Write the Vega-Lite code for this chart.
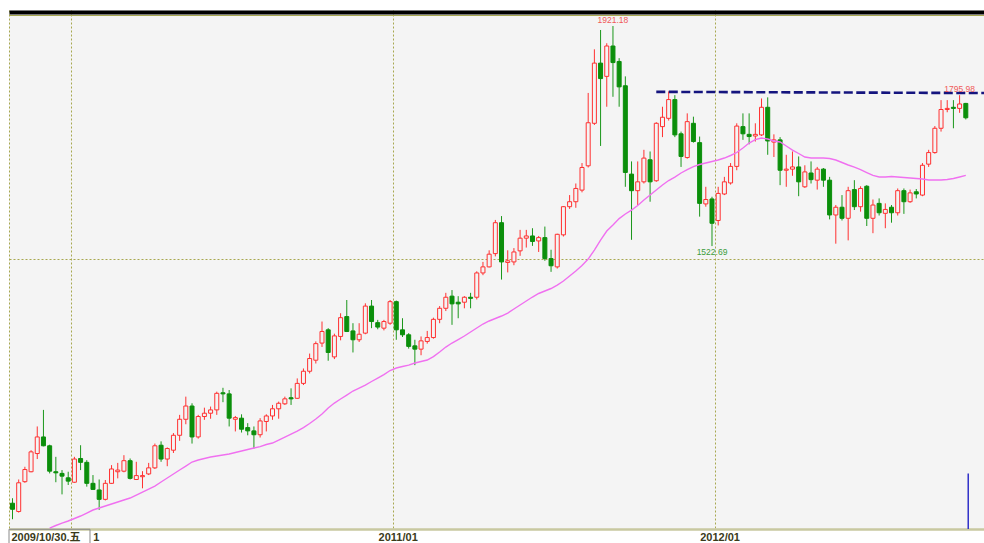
{
  "$schema": "https://vega.github.io/schema/vega-lite/v6.json",
  "width": 975,
  "height": 519,
  "autosize": {"type": "none"},
  "padding": {"left": 9, "top": 10, "right": 0, "bottom": 14},
  "background": "#ffffff",
  "config": {"view": {"stroke": null, "fill": "#f4f4f4"}},
  "datasets": {
    "k": [
      {"d":"2009-10-30","o":1057,"h":1066,"l":1028,"c":1046},
      {"d":"2009-11-06","o":1042,"h":1100,"l":1040,"c":1094},
      {"d":"2009-11-13","o":1096,"h":1123,"l":1094,"c":1118},
      {"d":"2009-11-20","o":1114,"h":1153,"l":1113,"c":1150},
      {"d":"2009-11-27","o":1147,"h":1196,"l":1137,"c":1177},
      {"d":"2009-12-04","o":1177,"h":1226,"l":1160,"c":1161},
      {"d":"2009-12-11","o":1161,"h":1163,"l":1111,"c":1115},
      {"d":"2009-12-18","o":1114,"h":1141,"l":1095,"c":1112},
      {"d":"2009-12-25","o":1111,"h":1117,"l":1073,"c":1106},
      {"d":"2010-01-01","o":1103,"h":1114,"l":1090,"c":1097},
      {"d":"2010-01-08","o":1095,"h":1141,"l":1094,"c":1137},
      {"d":"2010-01-15","o":1138,"h":1162,"l":1117,"c":1131},
      {"d":"2010-01-22","o":1131,"h":1135,"l":1087,"c":1093},
      {"d":"2010-01-29","o":1093,"h":1108,"l":1081,"c":1082},
      {"d":"2010-02-05","o":1081,"h":1100,"l":1045,"c":1064},
      {"d":"2010-02-12","o":1064,"h":1099,"l":1062,"c":1093},
      {"d":"2010-02-19","o":1093,"h":1126,"l":1092,"c":1119},
      {"d":"2010-02-26","o":1114,"h":1130,"l":1102,"c":1117},
      {"d":"2010-03-05","o":1115,"h":1144,"l":1113,"c":1134},
      {"d":"2010-03-12","o":1134,"h":1138,"l":1100,"c":1102},
      {"d":"2010-03-19","o":1100,"h":1132,"l":1099,"c":1107},
      {"d":"2010-03-26","o":1105,"h":1115,"l":1084,"c":1107},
      {"d":"2010-04-02","o":1110,"h":1130,"l":1108,"c":1121},
      {"d":"2010-04-09","o":1121,"h":1165,"l":1119,"c":1161},
      {"d":"2010-04-16","o":1162,"h":1169,"l":1132,"c":1137},
      {"d":"2010-04-23","o":1137,"h":1158,"l":1124,"c":1156},
      {"d":"2010-04-30","o":1153,"h":1184,"l":1148,"c":1180},
      {"d":"2010-05-07","o":1180,"h":1217,"l":1170,"c":1209},
      {"d":"2010-05-14","o":1209,"h":1250,"l":1200,"c":1233},
      {"d":"2010-05-21","o":1233,"h":1238,"l":1165,"c":1177},
      {"d":"2010-05-28","o":1177,"h":1217,"l":1174,"c":1214},
      {"d":"2010-06-04","o":1214,"h":1230,"l":1208,"c":1220},
      {"d":"2010-06-11","o":1220,"h":1232,"l":1210,"c":1226},
      {"d":"2010-06-18","o":1226,"h":1259,"l":1217,"c":1256},
      {"d":"2010-06-25","o":1257,"h":1266,"l":1240,"c":1255},
      {"d":"2010-07-02","o":1255,"h":1262,"l":1196,"c":1211},
      {"d":"2010-07-09","o":1209,"h":1215,"l":1187,"c":1212},
      {"d":"2010-07-16","o":1211,"h":1218,"l":1185,"c":1191},
      {"d":"2010-07-23","o":1194,"h":1202,"l":1180,"c":1188},
      {"d":"2010-07-30","o":1188,"h":1196,"l":1156,"c":1181},
      {"d":"2010-08-06","o":1181,"h":1211,"l":1176,"c":1206},
      {"d":"2010-08-13","o":1205,"h":1218,"l":1187,"c":1215},
      {"d":"2010-08-20","o":1215,"h":1235,"l":1208,"c":1228},
      {"d":"2010-08-27","o":1228,"h":1241,"l":1210,"c":1238},
      {"d":"2010-09-03","o":1237,"h":1250,"l":1235,"c":1246},
      {"d":"2010-09-10","o":1248,"h":1265,"l":1235,"c":1246},
      {"d":"2010-09-17","o":1247,"h":1283,"l":1246,"c":1274},
      {"d":"2010-09-24","o":1274,"h":1301,"l":1271,"c":1296},
      {"d":"2010-10-01","o":1296,"h":1328,"l":1292,"c":1319},
      {"d":"2010-10-08","o":1316,"h":1350,"l":1310,"c":1346},
      {"d":"2010-10-15","o":1347,"h":1386,"l":1340,"c":1368},
      {"d":"2010-10-22","o":1371,"h":1374,"l":1315,"c":1330},
      {"d":"2010-10-29","o":1322,"h":1364,"l":1318,"c":1360},
      {"d":"2010-11-05","o":1359,"h":1401,"l":1352,"c":1393},
      {"d":"2010-11-12","o":1395,"h":1425,"l":1367,"c":1368},
      {"d":"2010-11-19","o":1369,"h":1383,"l":1330,"c":1353},
      {"d":"2010-11-26","o":1353,"h":1383,"l":1349,"c":1363},
      {"d":"2010-12-03","o":1365,"h":1419,"l":1363,"c":1414},
      {"d":"2010-12-10","o":1414,"h":1425,"l":1374,"c":1386},
      {"d":"2010-12-17","o":1384,"h":1389,"l":1372,"c":1376},
      {"d":"2010-12-24","o":1374,"h":1389,"l":1370,"c":1386},
      {"d":"2010-12-31","o":1383,"h":1425,"l":1380,"c":1422},
      {"d":"2011-01-07","o":1422,"h":1424,"l":1353,"c":1371},
      {"d":"2011-01-14","o":1371,"h":1392,"l":1358,"c":1362},
      {"d":"2011-01-21","o":1362,"h":1365,"l":1337,"c":1341},
      {"d":"2011-01-28","o":1342,"h":1353,"l":1307,"c":1336},
      {"d":"2011-02-04","o":1336,"h":1359,"l":1325,"c":1351},
      {"d":"2011-02-11","o":1350,"h":1369,"l":1346,"c":1357},
      {"d":"2011-02-18","o":1357,"h":1393,"l":1355,"c":1390},
      {"d":"2011-02-25","o":1390,"h":1414,"l":1383,"c":1410},
      {"d":"2011-03-04","o":1410,"h":1438,"l":1405,"c":1430},
      {"d":"2011-03-11","o":1432,"h":1443,"l":1380,"c":1418},
      {"d":"2011-03-18","o":1421,"h":1432,"l":1392,"c":1418},
      {"d":"2011-03-25","o":1421,"h":1432,"l":1410,"c":1430},
      {"d":"2011-04-01","o":1430,"h":1438,"l":1410,"c":1428},
      {"d":"2011-04-08","o":1430,"h":1477,"l":1426,"c":1474},
      {"d":"2011-04-15","o":1474,"h":1494,"l":1470,"c":1485},
      {"d":"2011-04-22","o":1485,"h":1515,"l":1484,"c":1508},
      {"d":"2011-04-29","o":1509,"h":1570,"l":1504,"c":1565},
      {"d":"2011-05-06","o":1565,"h":1577,"l":1462,"c":1494},
      {"d":"2011-05-13","o":1493,"h":1515,"l":1475,"c":1496},
      {"d":"2011-05-20","o":1494,"h":1519,"l":1488,"c":1512},
      {"d":"2011-05-27","o":1514,"h":1552,"l":1505,"c":1537},
      {"d":"2011-06-03","o":1537,"h":1552,"l":1520,"c":1541},
      {"d":"2011-06-10","o":1541,"h":1555,"l":1523,"c":1531},
      {"d":"2011-06-17","o":1532,"h":1541,"l":1512,"c":1538},
      {"d":"2011-06-24","o":1538,"h":1558,"l":1496,"c":1500},
      {"d":"2011-07-01","o":1500,"h":1516,"l":1476,"c":1487},
      {"d":"2011-07-08","o":1485,"h":1545,"l":1482,"c":1544},
      {"d":"2011-07-15","o":1543,"h":1595,"l":1540,"c":1594},
      {"d":"2011-07-22","o":1594,"h":1615,"l":1590,"c":1603},
      {"d":"2011-07-29","o":1603,"h":1636,"l":1592,"c":1627},
      {"d":"2011-08-05","o":1624,"h":1673,"l":1620,"c":1665},
      {"d":"2011-08-12","o":1668,"h":1800,"l":1665,"c":1746},
      {"d":"2011-08-19","o":1745,"h":1879,"l":1742,"c":1854},
      {"d":"2011-08-26","o":1854,"h":1914,"l":1704,"c":1826},
      {"d":"2011-09-02","o":1830,"h":1890,"l":1775,"c":1885},
      {"d":"2011-09-09","o":1885,"h":1921.18,"l":1793,"c":1855},
      {"d":"2011-09-16","o":1857,"h":1863,"l":1775,"c":1811},
      {"d":"2011-09-23","o":1813,"h":1830,"l":1630,"c":1656},
      {"d":"2011-09-30","o":1653,"h":1676,"l":1534,"c":1623},
      {"d":"2011-10-07","o":1623,"h":1676,"l":1597,"c":1639},
      {"d":"2011-10-14","o":1639,"h":1697,"l":1636,"c":1682},
      {"d":"2011-10-21","o":1679,"h":1694,"l":1603,"c":1639},
      {"d":"2011-10-28","o":1641,"h":1747,"l":1639,"c":1745},
      {"d":"2011-11-04","o":1739,"h":1775,"l":1720,"c":1756},
      {"d":"2011-11-11","o":1754,"h":1802.7,"l":1750,"c":1788},
      {"d":"2011-11-18","o":1788,"h":1796,"l":1720,"c":1724},
      {"d":"2011-11-25","o":1726,"h":1730,"l":1666,"c":1685},
      {"d":"2011-12-02","o":1683,"h":1763,"l":1681,"c":1748},
      {"d":"2011-12-09","o":1745,"h":1757,"l":1710,"c":1712},
      {"d":"2011-12-16","o":1710,"h":1721,"l":1576,"c":1600},
      {"d":"2011-12-23","o":1599,"h":1630,"l":1594,"c":1607},
      {"d":"2011-12-30","o":1608,"h":1612,"l":1522.69,"c":1564},
      {"d":"2012-01-06","o":1569,"h":1630,"l":1560,"c":1618},
      {"d":"2012-01-13","o":1617,"h":1648,"l":1615,"c":1639},
      {"d":"2012-01-20","o":1637,"h":1673,"l":1634,"c":1667},
      {"d":"2012-01-27","o":1667,"h":1745,"l":1660,"c":1740},
      {"d":"2012-02-03","o":1739,"h":1763,"l":1715,"c":1726},
      {"d":"2012-02-10","o":1725,"h":1763,"l":1707,"c":1721},
      {"d":"2012-02-17","o":1722,"h":1745,"l":1712,"c":1725},
      {"d":"2012-02-24","o":1724,"h":1790,"l":1722,"c":1774},
      {"d":"2012-03-02","o":1774,"h":1792,"l":1688,"c":1713},
      {"d":"2012-03-09","o":1711,"h":1725,"l":1684,"c":1715},
      {"d":"2012-03-16","o":1715,"h":1720,"l":1633,"c":1660},
      {"d":"2012-03-23","o":1660,"h":1688,"l":1630,"c":1662},
      {"d":"2012-03-30","o":1662,"h":1694,"l":1650,"c":1666},
      {"d":"2012-04-06","o":1666,"h":1685,"l":1613,"c":1639},
      {"d":"2012-04-13","o":1630,"h":1669,"l":1628,"c":1657},
      {"d":"2012-04-20","o":1655,"h":1676,"l":1636,"c":1643},
      {"d":"2012-04-27","o":1642,"h":1666,"l":1625,"c":1662},
      {"d":"2012-05-04","o":1662,"h":1664,"l":1630,"c":1642},
      {"d":"2012-05-11","o":1642,"h":1648,"l":1571,"c":1579},
      {"d":"2012-05-18","o":1579,"h":1597,"l":1527,"c":1593},
      {"d":"2012-05-25","o":1593,"h":1615,"l":1569,"c":1573},
      {"d":"2012-06-01","o":1573,"h":1630,"l":1533,"c":1623},
      {"d":"2012-06-08","o":1625,"h":1642,"l":1588,"c":1594},
      {"d":"2012-06-15","o":1594,"h":1631,"l":1585,"c":1627},
      {"d":"2012-06-22","o":1631,"h":1633,"l":1559,"c":1573},
      {"d":"2012-06-29","o":1573,"h":1607,"l":1546,"c":1597},
      {"d":"2012-07-06","o":1600,"h":1609,"l":1578,"c":1583},
      {"d":"2012-07-13","o":1582,"h":1600,"l":1555,"c":1589},
      {"d":"2012-07-20","o":1593,"h":1597,"l":1565,"c":1583},
      {"d":"2012-07-27","o":1583,"h":1627,"l":1578,"c":1623},
      {"d":"2012-08-03","o":1623,"h":1627,"l":1581,"c":1603},
      {"d":"2012-08-10","o":1603,"h":1625,"l":1601,"c":1619},
      {"d":"2012-08-17","o":1621,"h":1626,"l":1609,"c":1617},
      {"d":"2012-08-24","o":1615,"h":1673,"l":1613,"c":1669},
      {"d":"2012-08-31","o":1671,"h":1697,"l":1666,"c":1692},
      {"d":"2012-09-07","o":1692,"h":1740,"l":1690,"c":1736},
      {"d":"2012-09-14","o":1736,"h":1787,"l":1730,"c":1770},
      {"d":"2012-09-21","o":1770,"h":1787,"l":1765,"c":1772},
      {"d":"2012-09-28","o":1774,"h":1787,"l":1736,"c":1772},
      {"d":"2012-10-05","o":1772,"h":1795.98,"l":1764,"c":1780},
      {"d":"2012-10-12","o":1781,"h":1782,"l":1752,"c":1755}
    ],
    "ma": [
      {"d":"2009-12-11","ma":1012.0},{"d":"2009-12-18","ma":1016.6},{"d":"2009-12-25","ma":1021.1},{"d":"2010-01-01","ma":1024.8},
      {"d":"2010-01-08","ma":1029.3},{"d":"2010-01-15","ma":1033.8},{"d":"2010-01-22","ma":1039.2},{"d":"2010-01-29","ma":1044.7},
      {"d":"2010-02-05","ma":1048.3},{"d":"2010-02-12","ma":1051.9},{"d":"2010-02-19","ma":1055.5},{"d":"2010-02-26","ma":1059.2},
      {"d":"2010-03-05","ma":1062.8},{"d":"2010-03-12","ma":1066.4},{"d":"2010-03-19","ma":1071.8},{"d":"2010-03-26","ma":1077.3},
      {"d":"2010-04-02","ma":1082.7},{"d":"2010-04-09","ma":1088.1},{"d":"2010-04-16","ma":1095.4},{"d":"2010-04-23","ma":1102.6},
      {"d":"2010-04-30","ma":1109.9},{"d":"2010-05-07","ma":1117.1},{"d":"2010-05-14","ma":1124.3},{"d":"2010-05-21","ma":1131.6},
      {"d":"2010-05-28","ma":1135.2},{"d":"2010-06-04","ma":1137.9},{"d":"2010-06-11","ma":1140.6},{"d":"2010-06-18","ma":1142.4},
      {"d":"2010-06-25","ma":1144.2},{"d":"2010-07-02","ma":1146.1},{"d":"2010-07-09","ma":1148.8},{"d":"2010-07-16","ma":1151.5},
      {"d":"2010-07-23","ma":1154.2},{"d":"2010-07-30","ma":1156.9},{"d":"2010-08-06","ma":1159.6},{"d":"2010-08-13","ma":1163.3},
      {"d":"2010-08-20","ma":1166.0},{"d":"2010-08-27","ma":1171.4},{"d":"2010-09-03","ma":1176.8},{"d":"2010-09-10","ma":1182.3},
      {"d":"2010-09-17","ma":1187.7},{"d":"2010-09-24","ma":1194.0},{"d":"2010-10-01","ma":1201.3},{"d":"2010-10-08","ma":1209.5},
      {"d":"2010-10-15","ma":1218.5},{"d":"2010-10-22","ma":1229.4},{"d":"2010-10-29","ma":1238.4},{"d":"2010-11-05","ma":1245.7},
      {"d":"2010-11-12","ma":1252.9},{"d":"2010-11-19","ma":1260.2},{"d":"2010-11-26","ma":1265.6},{"d":"2010-12-03","ma":1271.0},
      {"d":"2010-12-10","ma":1277.4},{"d":"2010-12-17","ma":1283.7},{"d":"2010-12-24","ma":1290.0},{"d":"2010-12-31","ma":1297.3},
      {"d":"2011-01-07","ma":1301.8},{"d":"2011-01-14","ma":1304.5},{"d":"2011-01-21","ma":1307.2},{"d":"2011-01-28","ma":1310.9},
      {"d":"2011-02-04","ma":1313.6},{"d":"2011-02-11","ma":1316.3},{"d":"2011-02-18","ma":1322.6},{"d":"2011-02-25","ma":1330.8},
      {"d":"2011-03-04","ma":1339.8},{"d":"2011-03-11","ma":1347.1},{"d":"2011-03-18","ma":1353.4},{"d":"2011-03-25","ma":1359.8},
      {"d":"2011-04-01","ma":1367.0},{"d":"2011-04-08","ma":1374.3},{"d":"2011-04-15","ma":1381.5},{"d":"2011-04-22","ma":1387.0},
      {"d":"2011-04-29","ma":1391.5},{"d":"2011-05-06","ma":1396.0},{"d":"2011-05-13","ma":1401.4},{"d":"2011-05-20","ma":1408.7},
      {"d":"2011-05-27","ma":1415.9},{"d":"2011-06-03","ma":1423.2},{"d":"2011-06-10","ma":1430.4},{"d":"2011-06-17","ma":1436.8},
      {"d":"2011-06-24","ma":1441.3},{"d":"2011-07-01","ma":1445.8},{"d":"2011-07-08","ma":1452.1},{"d":"2011-07-15","ma":1459.4},
      {"d":"2011-07-22","ma":1468.4},{"d":"2011-07-29","ma":1477.5},{"d":"2011-08-05","ma":1487.5},{"d":"2011-08-12","ma":1499.2},
      {"d":"2011-08-19","ma":1515.5},{"d":"2011-08-26","ma":1533.6},{"d":"2011-09-02","ma":1549.9},{"d":"2011-09-09","ma":1560.8},
      {"d":"2011-09-16","ma":1572.5},{"d":"2011-09-23","ma":1580.7},{"d":"2011-09-30","ma":1587.9},{"d":"2011-10-07","ma":1596.1},
      {"d":"2011-10-14","ma":1606.0},{"d":"2011-10-21","ma":1615.1},{"d":"2011-10-28","ma":1624.2},{"d":"2011-11-04","ma":1633.2},
      {"d":"2011-11-11","ma":1641.4},{"d":"2011-11-18","ma":1647.7},{"d":"2011-11-25","ma":1655.0},{"d":"2011-12-02","ma":1661.3},
      {"d":"2011-12-09","ma":1666.7},{"d":"2011-12-16","ma":1670.4},{"d":"2011-12-23","ma":1673.1},{"d":"2011-12-30","ma":1675.8},
      {"d":"2012-01-06","ma":1678.5},{"d":"2012-01-13","ma":1682.1},{"d":"2012-01-20","ma":1686.7},{"d":"2012-01-27","ma":1692.1},
      {"d":"2012-02-03","ma":1700.2},{"d":"2012-02-10","ma":1709.3},{"d":"2012-02-17","ma":1715.6},{"d":"2012-02-24","ma":1718.3},
      {"d":"2012-03-02","ma":1716.5},{"d":"2012-03-09","ma":1712.9},{"d":"2012-03-16","ma":1711.1},{"d":"2012-03-23","ma":1703.9},
      {"d":"2012-03-30","ma":1696.6},{"d":"2012-04-06","ma":1690.3},{"d":"2012-04-13","ma":1684.0},{"d":"2012-04-20","ma":1682.1},
      {"d":"2012-04-27","ma":1682.1},{"d":"2012-05-04","ma":1682.1},{"d":"2012-05-11","ma":1681.2},{"d":"2012-05-18","ma":1678.5},
      {"d":"2012-05-25","ma":1674.0},{"d":"2012-06-01","ma":1669.5},{"d":"2012-06-08","ma":1665.8},{"d":"2012-06-15","ma":1661.3},
      {"d":"2012-06-22","ma":1655.9},{"d":"2012-06-29","ma":1650.6},{"d":"2012-07-06","ma":1647.7},{"d":"2012-07-13","ma":1647.7},
      {"d":"2012-07-20","ma":1648.6},{"d":"2012-07-27","ma":1647.7},{"d":"2012-08-03","ma":1646.8},{"d":"2012-08-10","ma":1645.9},
      {"d":"2012-08-17","ma":1645.0},{"d":"2012-08-24","ma":1644.1},{"d":"2012-08-31","ma":1642.3},{"d":"2012-09-07","ma":1642.3},
      {"d":"2012-09-14","ma":1642.3},{"d":"2012-09-21","ma":1643.2},{"d":"2012-09-28","ma":1645.0},{"d":"2012-10-05","ma":1647.7},
      {"d":"2012-10-12","ma":1650.6}
    ],
    "notes": [
      {"d":"2011-09-09","p":1921.18,"t":"1921.18","k":"hi"},
      {"d":"2011-12-30","p":1522.69,"t":"1522.69","k":"lo"},
      {"d":"2012-10-05","p":1795.98,"t":"1795.98","k":"hi"}
    ],
    "resist": [
      {"d":"2011-10-28","to":"2012-11-01T14:00:00Z","p1":1802.0,"p2":1799.8}
    ],
    "cursor": [
      {"d":"2012-10-14T18:00:00Z","top":1111,"bottom":1010.3}
    ],
    "box": [
      {"d":"2009-10-26T01:00:00Z","to":"2010-01-25T15:00:00Z","top":1009.8,"bottom":975}
    ]
  },
  "encoding": {
    "x": {
      "field": "d", "type": "temporal",
      "scale": {"type": "utc", "padding": 0, "domain": [
        {"year": 2009, "month": 10, "date": 26, "hours": 1, "utc": true},
        {"year": 2012, "month": 11, "date": 1, "hours": 14, "utc": true}
      ]},
      "axis": {
        "title": null,
        "values": [
          {"year": 2009, "month": 10, "date": 26, "hours": 1, "utc": true},
          {"year": 2010, "month": 1, "date": 4, "hours": 12, "utc": true},
          {"year": 2011, "month": 1, "date": 3, "hours": 12, "utc": true},
          {"year": 2012, "month": 1, "date": 2, "hours": 12, "utc": true}
        ],
        "grid": true, "gridColor": "#a8a850", "gridDash": [2, 2], "gridWidth": 1,
        "domain": true, "domainColor": "#c8c8a0", "domainWidth": 2.5,
        "ticks": false, "tickSize": 0,
        "labelExpr": "utcyear(datum.value) == 2009 ? '2009/10/30.五' : (utcyear(datum.value) == 2010 ? '1' : utcFormat(datum.value, '%Y/%m'))",
        "labelFont": "Liberation Sans, Noto Sans CJK SC",
        "labelFontSize": 11, "labelFontWeight": "bold", "labelColor": "#3a3a1a",
        "labelPadding": 2, "labelBaseline": "top",
        "labelAlign": {"condition": {"test": "utcyear(datum.value) <= 2010", "value": "left"}, "value": "center"},
        "labelOffset": {"condition": [
          {"test": "utcyear(datum.value) == 2009", "value": 2},
          {"test": "utcyear(datum.value) == 2010", "value": 21.5}
        ], "value": 4.5},
        "labelOverlap": false, "labelBound": false, "labelFlush": false
      }
    }
  },
  "layer": [
    {
      "data": {"name": "k"},
      "mark": {"type": "rule", "strokeWidth": 1},
      "encoding": {
        "y": {
          "field": "l", "type": "quantitative",
          "scale": {"domain": [1010.3, 1950.2], "nice": false, "zero": false, "padding": 0},
          "axis": {
            "title": null, "labels": false, "ticks": false, "domain": false,
            "values": [1500, 1941.1, 1946.6],
            "grid": true,
            "gridColor": {"condition": {"test": "datum.value > 1945", "value": "#000000"}, "value": "#a8a850"},
            "gridWidth": {"condition": {"test": "datum.value > 1945", "value": 4}, "value": 1},
            "gridDash": {"condition": {"test": "datum.value > 1900", "value": []}, "value": [2, 2]}
          }
        },
        "y2": {"field": "h"},
        "color": {"condition": {"test": "datum.c >= datum.o", "value": "#ff3030"}, "value": "#1a961a"}
      }
    },
    {
      "data": {"name": "k"},
      "mark": {"type": "bar", "width": 4, "strokeWidth": 1},
      "encoding": {
        "y": {"field": "o", "type": "quantitative"},
        "y2": {"field": "c"},
        "fill": {"condition": {"test": "datum.c >= datum.o", "value": "#f4f4f4"}, "value": "#0b8f0b"},
        "stroke": {"condition": {"test": "datum.c >= datum.o", "value": "#ff3030"}, "value": "#0b8f0b"}
      }
    },
    {
      "data": {"name": "ma"},
      "mark": {"type": "line", "stroke": "#f070f0", "strokeWidth": 1.4, "clip": true},
      "encoding": {
        "y": {"field": "ma", "type": "quantitative"}
      }
    },
    {
      "data": {"name": "resist"},
      "mark": {"type": "rule", "stroke": "#14147e", "strokeWidth": 2.6, "strokeDash": [9, 3.5]},
      "encoding": {
        "x2": {"field": "to"},
        "y": {"field": "p1", "type": "quantitative"},
        "y2": {"field": "p2"}
      }
    },
    {
      "data": {"name": "notes"},
      "transform": [{"filter": "datum.k == 'hi'"}],
      "mark": {"type": "text", "color": "#f05a5a", "font": "Liberation Sans", "fontSize": 8.5, "baseline": "middle", "dy": -6.5},
      "encoding": {
        "y": {"field": "p", "type": "quantitative"},
        "text": {"field": "t"}
      }
    },
    {
      "data": {"name": "notes"},
      "transform": [{"filter": "datum.k == 'lo'"}],
      "mark": {"type": "text", "color": "#3c9c3c", "font": "Liberation Sans", "fontSize": 8.5, "baseline": "middle", "dy": 6},
      "encoding": {
        "y": {"field": "p", "type": "quantitative"},
        "text": {"field": "t"}
      }
    },
    {
      "data": {"name": "cursor"},
      "mark": {"type": "rule", "stroke": "#3030c8", "strokeWidth": 1.5},
      "encoding": {
        "y": {"field": "top", "type": "quantitative"},
        "y2": {"field": "bottom"}
      }
    },
    {
      "data": {"name": "box"},
      "mark": {"type": "rect", "fill": "#f4f4f4", "fillOpacity": 0, "stroke": "#8a8a8a", "strokeWidth": 1},
      "encoding": {
        "x2": {"field": "to"},
        "y": {"field": "top", "type": "quantitative"},
        "y2": {"field": "bottom"}
      }
    }
  ]
}
